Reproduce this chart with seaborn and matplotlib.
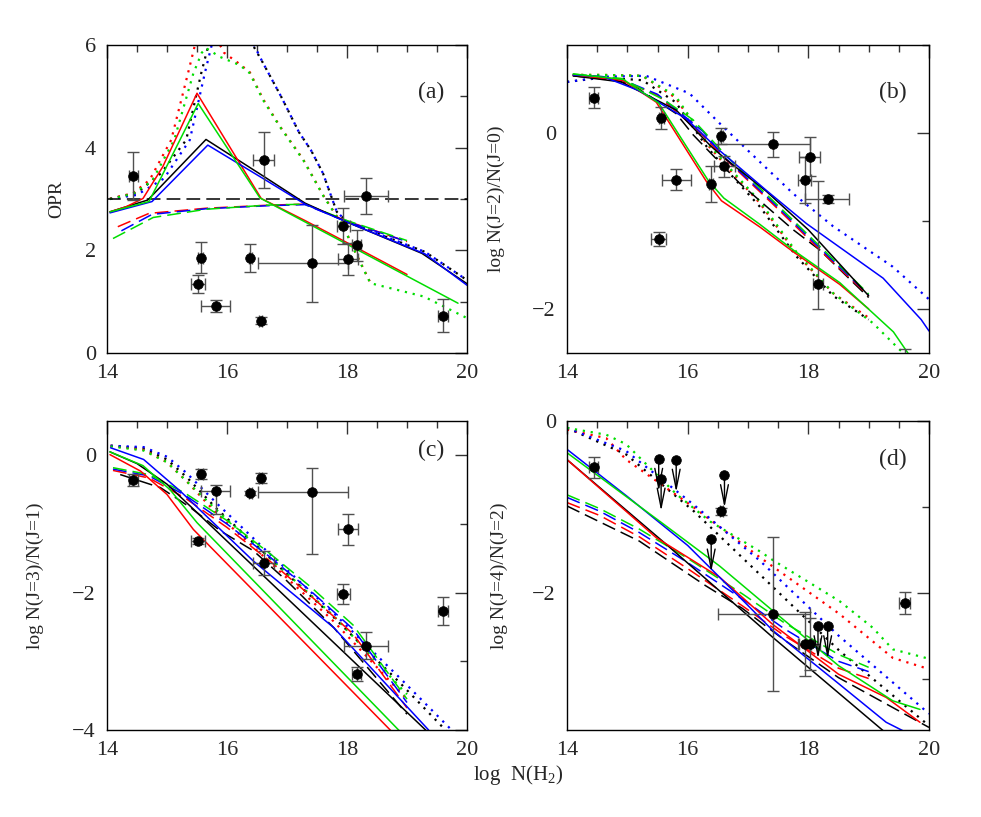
import numpy as np
import matplotlib
matplotlib.use("Agg")
import matplotlib.pyplot as plt
from matplotlib.ticker import MultipleLocator
import seaborn as sns

# ---- observed sightlines (shared log N(H2) and its errors) ----
obs_logN = [14.44, 15.52, 15.56, 15.81, 16.39, 16.56, 16.61, 17.42, 17.94, 18.02, 18.16, 18.32, 19.60]
obs_xlo = [0.08, 0.12, 0.04, 0.24, 0.03, 0.03, 0.18, 0.91, 0.11, 0.17, 0.08, 0.37, 0.09]
obs_xhi = [0.08, 0.12, 0.04, 0.24, 0.03, 0.03, 0.18, 0.60, 0.11, 0.17, 0.08, 0.36, 0.09]

opr_obs = [3.45, 1.34, 1.86, 0.92, 1.85, 0.63, 3.76, 1.75, 2.47, 1.83, 2.10, 3.06, 0.73]
opr_lo = [0.47, 0.17, 0.30, 0.12, 0.28, 0.07, 0.55, 0.75, 0.35, 0.32, 0.30, 0.35, 0.32]
opr_hi = [0.47, 0.17, 0.30, 0.12, 0.28, 0.07, 0.55, 0.75, 0.35, 0.32, 0.30, 0.35, 0.32]

r20_obs = [0.40, -1.20, 0.17, -0.53, -0.58, -0.03, -0.38, -0.13, -0.53, -0.27, -1.72, -0.75, -2.75]
r20_lo = [0.12, 0.08, 0.13, 0.12, 0.20, 0.09, 0.12, 0.14, 0.26, 0.22, 0.28, 0.05, 0.30]
r20_hi = [0.12, 0.08, 0.13, 0.12, 0.20, 0.09, 0.12, 0.14, 0.26, 0.22, 1.18, 0.05, 0.30]

r31_obs = [-0.36, -1.25, -0.27, -0.52, -0.55, -0.33, -1.57, -0.53, -2.02, -1.08, -3.18, -2.77, -2.27]
r31_lo = [0.09, 0.04, 0.07, 0.34, 0.03, 0.07, 0.17, 0.91, 0.15, 0.22, 0.10, 0.20, 0.20]
r31_hi = [0.09, 0.04, 0.07, 0.09, 0.03, 0.07, 0.17, 0.34, 0.15, 0.22, 0.10, 0.20, 0.20]

r42_obs = [-0.54, -0.44, -0.67, -0.45, -1.38, -1.05, -0.63, -2.25, -2.60, -2.60, -2.39, -2.39, -2.12]
r42_lo = [0.12, 0, 0, 0, 0, 0.04, 0, 0.90, 0.37, 0.30, 0, 0, 0.13]
r42_hi = [0.12, 0, 0, 0, 0, 0.04, 0, 0.90, 0.37, 0.30, 0, 0, 0.13]
r42_upper = [False, True, True, True, True, False, True, False, False, False, True, True, False]

# ---- model curves: {colour: (logN, value)} per panel and line style ----
a_solid = {
    'red': ([14.05, 14.32, 14.6, 14.93, 15.5, 16.57, 17.3, 18.0, 19.0],
            [2.75, 2.85, 3.01, 3.63, 5.06, 3.01, 2.58, 2.15, 1.53]),
    'green': ([14.05, 14.7, 15.52, 16.55, 19.85], [2.75, 2.95, 4.86, 3.02, 0.97]),
    'black': ([14.05, 14.68, 15.65, 16.6, 17.3, 18.0, 19.25, 20.0],
              [2.75, 2.98, 4.16, 3.45, 2.92, 2.55, 1.94, 1.35]),
    'blue': ([14.05, 14.75, 15.68, 16.6, 17.3, 18.0, 19.3, 20.0],
             [2.73, 2.95, 4.05, 3.40, 2.90, 2.55, 1.93, 1.32]),
}
a_dashed = {
    'black': ([14.0, 20.0], [3.0, 3.0]),
    'red': ([14.18, 14.7, 15.65, 16.7, 17.3, 18.0, 19.0], [2.46, 2.72, 2.82, 2.88, 2.90, 2.57, 2.17]),
    'blue': ([14.24, 14.75, 15.65, 16.7, 17.3, 18.0, 19.0], [2.38, 2.70, 2.81, 2.87, 2.89, 2.56, 2.17]),
    'green': ([14.1, 14.77, 15.65, 16.66, 17.3, 18.0, 19.0], [2.23, 2.64, 2.80, 2.88, 2.90, 2.58, 2.19]),
}
a_dotted = {
    'black': ([14.05, 14.5, 14.9, 15.32, 15.57, 15.8, 16.1, 16.43, 16.6, 16.9, 17.2, 17.4, 17.6, 17.83, 18.0, 19.3, 20.0],
              [3.0, 3.12, 3.5, 4.15, 5.45, 6.5, 6.8, 6.0, 5.65, 5.0, 4.3, 3.95, 3.5, 2.75, 2.56, 1.97, 1.42]),
    'blue': ([14.05, 14.5, 14.95, 15.38, 15.63, 15.85, 16.1, 16.45, 16.6, 16.9, 17.2, 17.4, 17.6, 17.83, 18.0, 19.3, 20.0],
             [3.0, 3.08, 3.4, 4.15, 5.45, 6.5, 6.8, 6.0, 5.65, 5.0, 4.3, 3.95, 3.5, 2.75, 2.56, 1.97, 1.42]),
    'red': ([14.05, 14.43, 14.71, 15.07, 15.35, 15.55, 15.75, 15.95, 16.21, 16.38, 16.6, 16.88, 17.27, 17.61, 17.94, 18.17, 18.39],
            [3.01, 3.11, 3.37, 4.15, 5.45, 6.4, 6.3, 5.85, 5.63, 5.47, 4.95, 4.42, 3.77, 3.06, 2.47, 1.89, 1.37]),
    'green': ([14.05, 14.43, 14.75, 15.12, 15.44, 15.58, 15.65, 15.88, 16.21, 16.38, 16.6, 16.88, 17.27, 17.61, 17.94, 18.17, 18.39, 19.28, 20.0],
              [3.0, 3.1, 3.35, 4.15, 5.45, 5.85, 5.94, 5.77, 5.61, 5.45, 4.93, 4.41, 3.76, 3.05, 2.46, 1.88, 1.36, 1.10, 0.68]),
}

b_solid = {
    'red': ([14.1, 14.93, 15.48, 16.31, 16.56, 17.2, 17.75, 18.52, 19.0],
            [0.66, 0.60, 0.35, -0.55, -0.77, -1.07, -1.35, -1.72, -2.0]),
    'green': ([14.1, 14.93, 15.52, 16.35, 16.6, 17.2, 17.75, 18.52, 19.41, 19.7],
              [0.67, 0.61, 0.34, -0.55, -0.74, -1.04, -1.33, -1.70, -2.26, -2.55]),
    'black': ([14.1, 14.9, 15.81, 16.37, 16.6, 17.3, 18.0, 19.0],
              [0.65, 0.58, 0.26, -0.14, -0.28, -0.66, -1.1, -1.85]),
    'blue': ([14.1, 14.6, 15.2, 15.98, 16.53, 17.3, 17.97, 19.24, 19.87, 20.0],
             [0.66, 0.64, 0.48, 0.16, -0.20, -0.65, -1.03, -1.65, -2.12, -2.25]),
}
b_dashed = {
    'black': ([14.1, 14.8, 15.1, 15.81, 16.09, 16.86, 17.08, 17.75, 18.19, 19.0],
              [0.65, 0.60, 0.54, 0.22, -0.02, -0.57, -0.70, -1.10, -1.33, -1.87]),
    'red': ([14.1, 14.9, 15.5, 16.2, 16.6, 17.4, 18.3, 19.0], [0.66, 0.60, 0.43, 0.01, -0.28, -0.80, -1.40, -1.85]),
    'blue': ([14.1, 14.9, 15.5, 16.25, 16.6, 17.4, 18.3, 19.0], [0.66, 0.61, 0.44, 0.02, -0.27, -0.78, -1.38, -1.84]),
    'green': ([14.1, 14.9, 15.6, 16.09, 16.4, 16.7, 17.4, 18.3, 19.0],
              [0.67, 0.62, 0.38, 0.15, -0.08, -0.30, -0.76, -1.36, -1.83]),
}
b_dotted = {
    'black': ([14.0, 14.6, 15.25, 15.8, 16.31, 16.75, 17.2, 17.8, 18.41, 19.0],
              [0.58, 0.63, 0.60, 0.35, -0.15, -0.50, -0.84, -1.40, -1.85, -2.12]),
    'red': ([14.1, 14.6, 15.25, 15.8, 16.31, 16.75, 17.2, 17.8, 18.41, 19.0],
            [0.66, 0.66, 0.65, 0.40, -0.12, -0.46, -0.80, -1.37, -1.82, -2.10]),
    'green': ([14.1, 14.6, 15.25, 15.8, 16.31, 16.75, 17.2, 17.8, 18.41, 19.07, 19.51, 19.8],
              [0.66, 0.66, 0.65, 0.42, -0.10, -0.44, -0.78, -1.35, -1.82, -2.16, -2.46, -2.62]),
    'blue': ([14.0, 14.65, 15.31, 16.03, 16.53, 16.97, 17.75, 18.41, 19.4, 20.0],
             [0.58, 0.64, 0.65, 0.45, 0.11, -0.18, -0.69, -1.06, -1.52, -1.89]),
}

c_solid = {
    'red': ([14.05, 14.56, 15.0, 15.44, 18.72, 19.0], [0.01, -0.23, -0.57, -1.08, -4.0, -4.25]),
    'green': ([14.05, 14.6, 15.05, 15.5, 18.86, 19.0], [0.05, -0.15, -0.50, -0.98, -4.0, -4.13]),
    'black': ([14.05, 14.5, 15.0, 15.4, 19.31, 19.5], [0.05, -0.12, -0.42, -0.75, -4.0, -4.15]),
    'blue': ([14.06, 14.61, 15.22, 16.44, 17.78, 19.36], [0.11, -0.06, -0.52, -1.54, -2.51, -4.0]),
}
c_dashed = {
    'black': ([14.22, 14.89, 15.39, 15.89, 16.44, 17.0, 17.78, 18.72, 19.0],
              [-0.28, -0.47, -0.76, -1.10, -1.39, -1.83, -2.51, -3.48, -3.77]),
    'red': ([14.1, 14.7, 15.3, 16.0, 16.7, 17.4, 18.1, 19.0], [-0.22, -0.33, -0.62, -1.05, -1.53, -2.05, -2.60, -3.68]),
    'blue': ([14.1, 14.7, 15.3, 16.0, 16.7, 17.4, 18.1, 19.0], [-0.20, -0.30, -0.58, -1.00, -1.47, -1.98, -2.53, -3.60]),
    'green': ([14.1, 14.7, 15.3, 16.0, 16.7, 17.4, 18.1, 19.0], [-0.18, -0.28, -0.55, -0.95, -1.42, -1.92, -2.47, -3.55]),
}
c_dotted = {
    'black': ([14.06, 14.61, 15.0, 15.33, 15.83, 16.67, 17.78, 18.89, 19.75],
              [0.14, 0.10, -0.06, -0.32, -0.78, -1.46, -2.36, -3.32, -4.1]),
    'red': ([14.06, 14.61, 15.0, 15.33, 15.83, 16.67, 17.78, 18.89, 19.0],
            [0.14, 0.08, -0.10, -0.38, -0.85, -1.52, -2.42, -3.45, -3.55]),
    'green': ([14.06, 14.61, 15.0, 15.33, 15.83, 16.67, 17.78, 18.89, 19.0],
              [0.13, 0.07, -0.10, -0.38, -0.80, -1.46, -2.34, -3.38, -3.48]),
    'blue': ([14.06, 14.61, 15.0, 15.33, 15.83, 16.67, 17.78, 18.89, 19.8],
             [0.14, 0.12, -0.02, -0.26, -0.70, -1.40, -2.30, -3.25, -4.05]),
}

d_solid = {
    'black': ([14.0, 15.65, 17.41, 19.21, 19.4], [-0.45, -1.44, -2.52, -3.59, -3.7]),
    'red': ([14.0, 15.48, 16.53, 17.41, 18.5, 19.29, 19.85], [-0.45, -1.36, -1.82, -2.37, -2.95, -3.22, -3.51]),
    'green': ([14.0, 15.54, 16.53, 17.41, 18.5, 19.4, 19.85], [-0.37, -1.17, -1.69, -2.21, -2.85, -3.26, -3.36]),
    'blue': ([14.0, 15.0, 16.0, 17.0, 17.41, 18.52, 19.29, 19.6], [-0.33, -0.88, -1.45, -2.15, -2.44, -3.07, -3.51, -3.62]),
}
d_dashed = {
    'black': ([14.0, 15.2, 16.3, 16.9, 17.6, 18.5, 19.3, 20.0], [-0.99, -1.40, -1.92, -2.18, -2.55, -2.99, -3.30, -3.57]),
    'red': ([14.0, 14.54, 15.2, 16.0, 16.92, 17.6, 18.5, 19.0], [-0.95, -1.10, -1.35, -1.72, -2.16, -2.50, -2.88, -3.00]),
    'blue': ([14.0, 14.54, 15.2, 16.0, 16.92, 17.6, 18.5, 19.0], [-0.89, -1.05, -1.30, -1.65, -2.08, -2.42, -2.80, -2.92]),
    'green': ([14.0, 14.54, 15.2, 16.0, 16.92, 17.6, 18.5, 19.0], [-0.86, -1.02, -1.26, -1.60, -2.02, -2.35, -2.72, -2.87]),
}
d_dotted = {
    'black': ([14.0, 14.98, 16.1, 17.2, 18.52, 20.0], [-0.08, -0.39, -1.05, -1.79, -2.68, -3.55]),
    'red': ([14.0, 14.65, 14.98, 16.09, 17.2, 18.52, 19.4, 20.0], [-0.10, -0.20, -0.45, -1.00, -1.59, -2.25, -2.76, -2.89]),
    'blue': ([14.0, 14.98, 16.09, 17.2, 18.5, 20.0], [-0.08, -0.35, -0.97, -1.63, -2.50, -3.41]),
    'green': ([14.0, 14.65, 14.98, 15.81, 16.37, 17.2, 17.41, 18.52, 19.07, 19.4, 20.0],
              [-0.08, -0.16, -0.27, -0.85, -1.17, -1.52, -1.62, -2.10, -2.41, -2.66, -2.77]),
}

panel_tags = ['(a)', '(b)', '(c)', '(d)']
y_labels = ['OPR', 'log N(J=2)/N(J=0)', 'log N(J=3)/N(J=1)', 'log N(J=4)/N(J=2)']
y_limits = [(0, 6), (-2.5, 1.0), (-4, 0.5), (-3.6, 0)]

colours = {'black': 'black', 'red': '#ff0000', 'green': '#00dd00', 'blue': '#0000ff'}
styles = {'solid': ('-', 1.1), 'dashed': ((0, (9, 4)), 1.1), 'dotted': ((0, (1.0, 2.6)), 1.6)}

sns.set_style('white')
plt.rcParams['font.family'] = ['Liberation Serif', 'DejaVu Serif']
plt.rcParams['mathtext.fontset'] = 'custom'
plt.rcParams['mathtext.rm'] = 'Liberation Serif'

fig = plt.figure(figsize=(9.81, 8.17), dpi=100)
W, H = 981, 817
boxes = [(107, 45, 360, 308), (567, 45, 362, 308), (107, 421, 360, 309), (567, 421, 362, 309)]
axes = [fig.add_axes([x / W, 1 - (y + h) / H, w / W, h / H]) for x, y, w, h in boxes]

models = [(a_solid, a_dashed, a_dotted), (b_solid, b_dashed, b_dotted),
          (c_solid, c_dashed, c_dotted), (d_solid, d_dashed, d_dotted)]
observed = [(opr_obs, opr_lo, opr_hi), (r20_obs, r20_lo, r20_hi),
            (r31_obs, r31_lo, r31_hi), (r42_obs, r42_lo, r42_hi)]
tag_pos = [(0.9, 0.845), (0.9, 0.845), (0.9, 0.905), (0.9, 0.875)]
ylab_x = [-0.115, -0.171, -0.175, -0.163]

for i, ax in enumerate(axes):
    solid, dashed, dotted = models[i]
    for name, group in [('dotted', dotted), ('dashed', dashed), ('solid', solid)]:
        ls, lw = styles[name]
        for col in ['black', 'red', 'blue', 'green']:
            xs, ys = group[col]
            sns.lineplot(x=xs, y=ys, ax=ax, color=colours[col], linestyle=ls,
                         lw=lw, sort=False, estimator=None)

    yv, ylo, yhi = observed[i]
    x = np.array(obs_logN)
    y = np.array(yv)
    upper = np.array(r42_upper) if i == 3 else np.zeros(len(x), bool)
    det = ~upper
    ax.errorbar(x[det], y[det],
                xerr=[np.array(obs_xlo)[det], np.array(obs_xhi)[det]],
                yerr=[np.array(ylo)[det], np.array(yhi)[det]],
                fmt='none', ecolor='#505050', elinewidth=1.0, capsize=4, capthick=1.0, zorder=4)
    sns.scatterplot(x=x, y=y, ax=ax, color='black', s=48, edgecolor='black', zorder=5)
    for xu, yu in zip(x[upper], y[upper]):
        ax.annotate('', xy=(xu, yu - 0.38), xytext=(xu, yu),
                    arrowprops=dict(arrowstyle='->,head_length=1.4,head_width=0.28',
                                    color='black', lw=1.0, shrinkA=0, shrinkB=0), zorder=5)

    ax.set_xlim(14, 20)
    ax.set_ylim(*y_limits[i])
    ax.xaxis.set_major_locator(MultipleLocator(2))
    ax.xaxis.set_minor_locator(MultipleLocator(0.5))
    ax.yaxis.set_major_locator(MultipleLocator(2))
    ax.yaxis.set_minor_locator(MultipleLocator(1))
    ax.tick_params(which='both', direction='in', top=True, right=True, labelsize=16,
                   color='#333333', width=1.0)
    ax.tick_params(which='major', length=9, pad=8)
    ax.tick_params(which='minor', length=5)
    for sp in ax.spines.values():
        sp.set_color('black')
        sp.set_linewidth(1.0)
    ax.set_xlabel('')
    ax.set_ylabel(y_labels[i], fontsize=14)
    ax.yaxis.set_label_coords(ylab_x[i], 0.5)
    ax.text(tag_pos[i][0], tag_pos[i][1], panel_tags[i], transform=ax.transAxes,
            fontsize=17, ha='center', va='center')

fig.text(518 / W, 1 - 775 / H, 'log  N(H$_2$)', fontsize=15, ha='center', va='center')

fig.savefig('out.png', dpi=100)
